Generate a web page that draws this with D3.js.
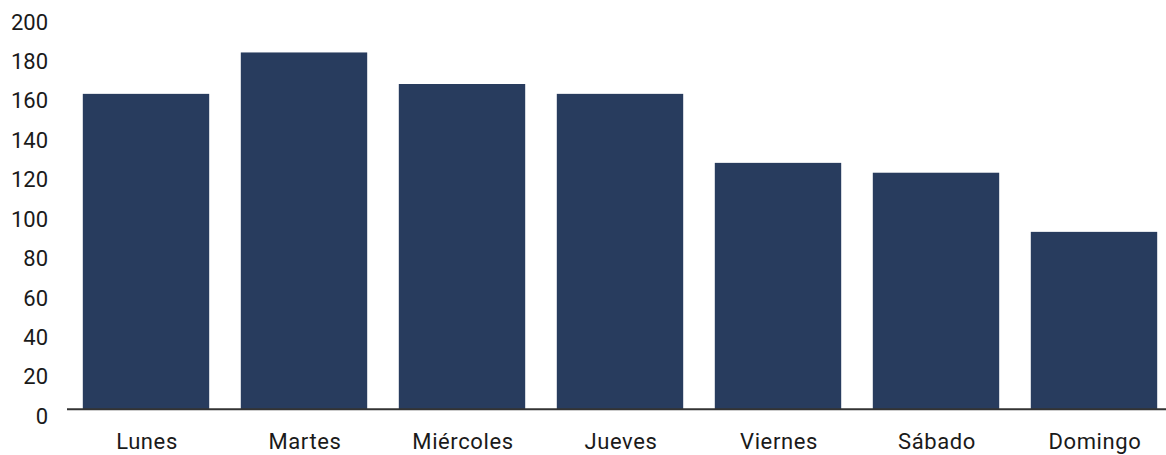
<!DOCTYPE html>
<html><head><meta charset="utf-8">
<script src="https://cdn.jsdelivr.net/npm/d3@7"></script>
<style>body{margin:0;background:#fff}svg{display:block}</style>
</head><body>
<svg id="c" width="1166" height="455"></svg>
<script>
const categories = ["Lunes","Martes","Miércoles","Jueves","Viernes","Sábado","Domingo"];
const values = [160, 181, 165, 160, 125, 120, 90];
const yTicks = [0,20,40,60,80,100,120,140,160,180,200];

const svg = d3.select("#c");
const font = "Roboto, 'DejaVu Sans', sans-serif";
const x = d3.scaleBand().domain(categories).range([67, 1173]).paddingInner(0.2).paddingOuter(0.1);
const y = d3.scaleLinear().domain([0, 200]).range([409.3, 15]);

svg.selectAll("rect.bar").data(values).enter().append("rect")
  .attr("class","bar")
  .attr("x", (d,i) => x(categories[i]))
  .attr("width", x.bandwidth())
  .attr("y", d => y(d))
  .attr("height", d => y(0) - y(d))
  .attr("fill", "#283c5e");

// baseline
svg.append("line").attr("x1", 67).attr("x2", 1173).attr("y1", y(0)).attr("y2", y(0))
  .attr("stroke", "#333").attr("stroke-width", 2);

// y tick labels
svg.selectAll("text.yt").data(yTicks).enter().append("text")
  .attr("class","yt")
  .attr("x", 48).attr("y", d => y(d) + 7)
  .attr("text-anchor","end").attr("dominant-baseline","central")
  .attr("font-family", font).attr("font-size", 22).attr("fill","#1a1a1a")
  .text(d => d);

// x labels
svg.selectAll("text.xt").data(categories).enter().append("text")
  .attr("class","xt")
  .attr("x", d => x(d) + x.bandwidth()/2 + 1).attr("y", 441)
  .attr("text-anchor","middle").attr("dominant-baseline","central")
  .attr("font-family", font).attr("font-size", 22).attr("letter-spacing", 0.6)
  .attr("fill","#1a1a1a")
  .text(d => d);
</script>
</body></html>
